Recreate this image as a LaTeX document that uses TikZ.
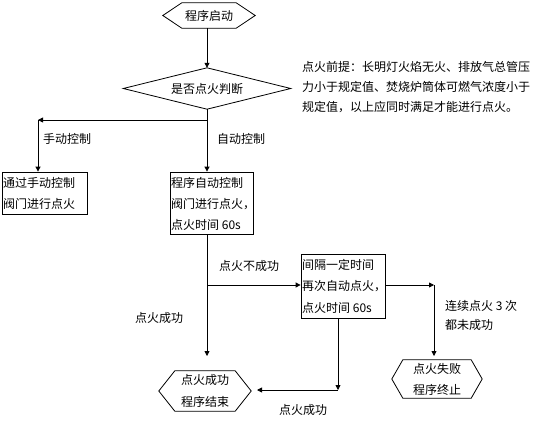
\documentclass[tikz,border=0pt]{standalone}
\usepackage{fontspec}
\newfontfamily\cjk{Noto Sans CJK SC}
\usetikzlibrary{arrows.meta}
\tikzset{
  every node/.style={font=\cjk\fontsize{12}{14}\selectfont, inner sep=0pt},
  frame/.style={draw, line width=0.8pt},
  conn/.style={line width=0.8pt},
  arr/.style={conn, -{Triangle[length=5pt,width=5pt]}},
  lbl/.style={anchor=center},
  ltxt/.style={anchor=west}
}
% hexagon frame around a named node: #1 name, #2 horizontal chamfer
\newcommand\hexframe[2]{%
  \draw[line width=0.8pt] ([xshift=#2]#1.north west) -- ([xshift=-#2]#1.north east) -- (#1.east)
    -- ([xshift=-#2]#1.south east) -- ([xshift=#2]#1.south west) -- (#1.west) -- cycle;}
\begin{document}
\begin{tikzpicture}[x=1pt,y=-1pt]
\useasboundingbox (0,0) rectangle (534,425);
% start
\node[minimum width=92pt, minimum height=25pt] (start) at (209,15.5) {程序启动};
\hexframe{start}{19pt}
% decision
\node[minimum width=167pt, minimum height=41pt] (dia) at (207,88.5) {是否点火判断};
\draw[line width=0.8pt] (dia.north) -- (dia.east) -- (dia.south) -- (dia.west) -- cycle;
% note
\node[ltxt] (n1) at (302,67) {点火前提：长明灯火焰无火、排放气总管压};
\node[ltxt] (n2) at (302,87) {力小于规定值、焚烧炉筒体可燃气浓度小于};
\node[ltxt] (n3) at (302,107) {规定值，以上应同时满足才能进行点火。};
% manual box
\node[frame, minimum width=85pt, minimum height=42pt] (man) at (44.5,193) {};
\node[ltxt] (man1) at (3,183) {通过手动控制};
\node[ltxt] (man2) at (3,204) {阀门进行点火};
% auto box
\node[frame, minimum width=83pt, minimum height=62pt] (auto) at (211.5,203) {};
\node[ltxt] (a1) at (171,183) {程序自动控制};
\node[ltxt] (a2) at (171,204) {阀门进行点火，};
\node[ltxt] (a3) at (171,225) {点火时间 60s};
% retry box
\node[frame, minimum width=84pt, minimum height=64pt] (retry) at (343,286) {};
\node[ltxt] (r1) at (302,265) {间隔一定时间};
\node[ltxt] (r2) at (302,286) {再次自动点火，};
\node[ltxt] (r3) at (302,308) {点火时间 60s};
% end ok
\node[minimum width=92pt, minimum height=40pt] (ok) at (205,391) {};
\hexframe{ok}{16pt}
\node[lbl] (ok1) at (205,380) {点火成功};
\node[lbl] (ok2) at (205,402) {程序结束};
% fail
\node[minimum width=90pt, minimum height=38pt] (fail) at (437,379) {};
\hexframe{fail}{11pt}
\node[lbl] (f1) at (437,369) {点火失败};
\node[lbl] (f2) at (437,390) {程序终止};
% labels
\node[lbl] (lm) at (67,139) {手动控制};
\node[lbl] (la) at (241,139) {自动控制};
\node[lbl] (lf) at (249,266) {点火不成功};
\node[lbl] (ls1) at (159,318) {点火成功};
\node[lbl] (ls2) at (303,410) {点火成功};
\node[ltxt] (lc1) at (445,306) {连续点火 3 次};
\node[ltxt] (lc2) at (445,325) {都未成功};
% coordinates
\coordinate (j1) at (207,120);
\coordinate (cl) at (38,120);
\coordinate (j2) at (207,285);
\coordinate (okin) at (207,356);
\coordinate (cr) at (434,285);
\coordinate (failin) at (434,356);
\coordinate (cb) at (338,390);
\coordinate (rb) at (338,318);
\coordinate (okr) at (257,390);
% connectors
\draw[arr] (start.south -| dia.north) -- (dia.north);
\draw[conn] (dia.south) -- (j1);
\draw[arr] (j1) -- (auto.north -| j1);
\draw[arr] (j1) -- (cl);
\draw[arr] (cl) -- (man.north -| cl);
\draw[conn] (auto.south -| j1) -- (j2);
\draw[arr] (j2) -- (okin);
\draw[arr] (j2) -- (retry.west |- j2);
\draw[arr] (retry.east |- cr) -- (cr);
\draw[arr] (cr) -- (failin);
\draw[arr] (rb) -- (cb);
\draw[arr] (cb) -- (okr);
\end{tikzpicture}
\end{document}
